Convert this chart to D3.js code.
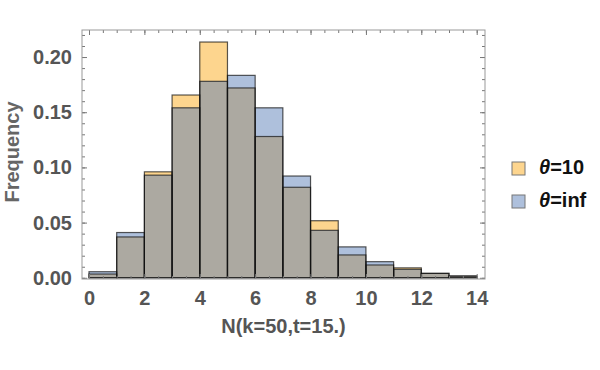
<!DOCTYPE html>
<html>
<head>
<meta charset="utf-8">
<script src="https://cdn.jsdelivr.net/npm/d3@7"></script>
<style>
  body { margin: 0; background: #fff; }
  text { font-family: "Liberation Sans", Arial, sans-serif; }
</style>
</head>
<body>
<div id="chart"></div>
<script>
// bins are [i, i+1)
const binStarts = [0, 1, 2, 3, 4, 5, 6, 7, 8, 9, 10, 11, 12, 13];
const theta10 = [0.0034, 0.037, 0.096, 0.1656, 0.2136, 0.172, 0.128, 0.082, 0.0517, 0.0207, 0.0116, 0.009, 0.004, 0.0016];
const thetaInf = [0.0055, 0.041, 0.093, 0.154, 0.178, 0.1834, 0.154, 0.0922, 0.043, 0.028, 0.0146, 0.0077, 0.004, 0.0016];
const xTicks = [0, 2, 4, 6, 8, 10, 12, 14];
const yTicks = [0, 0.05, 0.10, 0.15, 0.20];
const seriesNames = ['θ=10', 'θ=inf'];

const width = 600;
const height = 370;
const frame = { left: 82, right: 485, top: 30, bottom: 279 };

const orange = '#fdd58e';
const blue = '#aec0dc';
const grey = '#aca9a1';
const labelColor = '#555';

const svg = d3.select('#chart')
    .append('svg')
    .attr('width', width)
    .attr('height', height);

const xScale = d3.scaleLinear()
    .domain([-0.253, 14.3])
    .range([frame.left, frame.right]);
const yScale = d3.scaleLinear()
    .domain([-0.0011, 0.2245])
    .range([frame.bottom, frame.top]);

const bins = binStarts.map((b, i) => ({ x0: b, x1: b + 1, a: theta10[i], b: thetaInf[i] }));

const bars = svg.append('g');

// orange part, then blue, then grey overlap
bars.selectAll('.bar-a')
    .data(bins)
    .enter()
    .append('rect')
    .attr('x', d => xScale(d.x0))
    .attr('width', d => xScale(d.x1) - xScale(d.x0))
    .attr('y', d => yScale(d.a))
    .attr('height', d => yScale(0) - yScale(d.a))
    .style('fill', orange);

bars.selectAll('.bar-b')
    .data(bins)
    .enter()
    .append('rect')
    .attr('x', d => xScale(d.x0))
    .attr('width', d => xScale(d.x1) - xScale(d.x0))
    .attr('y', d => yScale(d.b))
    .attr('height', d => yScale(0) - yScale(d.b))
    .style('fill', blue);

bars.selectAll('.bar-overlap')
    .data(bins)
    .enter()
    .append('rect')
    .attr('x', d => xScale(d.x0))
    .attr('width', d => xScale(d.x1) - xScale(d.x0))
    .attr('y', d => yScale(Math.min(d.a, d.b)))
    .attr('height', d => yScale(0) - yScale(Math.min(d.a, d.b)))
    .style('fill', grey);

// outlines for both series
[theta10, thetaInf].forEach((vals, k) => {
    bars.selectAll('.outline' + k)
        .data(bins)
        .enter()
        .append('rect')
        .attr('x', d => xScale(d.x0))
        .attr('width', d => xScale(d.x1) - xScale(d.x0))
        .attr('y', d => yScale(k === 0 ? d.a : d.b))
        .attr('height', d => yScale(0) - yScale(k === 0 ? d.a : d.b))
        .style('fill', 'none')
        .style('stroke', '#111')
        .style('stroke-opacity', 0.7)
        .style('stroke-width', 1.2);
});

// frame with inward ticks
const frameColor = '#999';
const xMinor = d3.range(0, 14.01, 0.5);
const yMinor = d3.range(0, 0.2245, 0.01);

const bottomAxis = d3.axisBottom(xScale).tickValues(xTicks).tickSize(-5).tickFormat(d => d).tickPadding(12);
const bottomMinor = d3.axisBottom(xScale).tickValues(xMinor).tickSize(-3).tickFormat('');
const topAxis = d3.axisTop(xScale).tickValues(xTicks).tickSize(-5).tickFormat('');
const topMinor = d3.axisTop(xScale).tickValues(xMinor).tickSize(-3).tickFormat('');
const leftAxis = d3.axisLeft(yScale).tickValues(yTicks).tickSize(-5).tickFormat(d3.format('.2f')).tickPadding(10);
const leftMinor = d3.axisLeft(yScale).tickValues(yMinor).tickSize(-3).tickFormat('');
const rightAxis = d3.axisRight(yScale).tickValues(yTicks).tickSize(-5).tickFormat('');
const rightMinor = d3.axisRight(yScale).tickValues(yMinor).tickSize(-3).tickFormat('');

function addAxis(axis, transform) {
    const g = svg.append('g')
        .attr('transform', transform)
        .call(axis);
    g.select('.domain').remove();
    g.selectAll('line').style('stroke', '#777').style('stroke-width', 1);
    g.selectAll('text')
        .style('font-size', '20px')
        .style('font-weight', 'bold')
        .style('fill', labelColor);
    return g;
}

addAxis(bottomAxis, `translate(0,${frame.bottom})`);
addAxis(bottomMinor, `translate(0,${frame.bottom})`);
addAxis(topAxis, `translate(0,${frame.top})`);
addAxis(topMinor, `translate(0,${frame.top})`);
addAxis(leftAxis, `translate(${frame.left},0)`);
addAxis(leftMinor, `translate(${frame.left},0)`);
addAxis(rightAxis, `translate(${frame.right},0)`);
addAxis(rightMinor, `translate(${frame.right},0)`);

svg.append('rect')
    .attr('x', frame.left)
    .attr('y', frame.top)
    .attr('width', frame.right - frame.left)
    .attr('height', frame.bottom - frame.top)
    .style('fill', 'none')
    .style('stroke', frameColor)
    .style('stroke-width', 1);

// axis labels
svg.append('text')
    .attr('x', (frame.left + frame.right) / 2)
    .attr('y', 333)
    .style('text-anchor', 'middle')
    .style('font-size', '20px')
    .style('font-weight', 'bold')
    .style('fill', labelColor)
    .text('N(k=50,t=15.)');

svg.append('text')
    .attr('transform', 'translate(19,152) rotate(-90)')
    .style('text-anchor', 'middle')
    .style('font-size', '20px')
    .style('font-weight', 'bold')
    .style('fill', '#666')
    .text('Frequency');

// legend
const legend = svg.append('g').attr('transform', 'translate(512,160)');
const legendItems = legend.selectAll('.item')
    .data(seriesNames)
    .enter()
    .append('g')
    .attr('transform', (d, i) => `translate(0,${i * 33})`);

legendItems.append('rect')
    .attr('width', 13)
    .attr('height', 13)
    .attr('y', 2)
    .style('fill', (d, i) => i === 0 ? orange : blue)
    .style('stroke', '#777')
    .style('stroke-width', 1);

legendItems.append('text')
    .attr('x', 27)
    .attr('y', 14)
    .style('font-size', '20px')
    .style('font-weight', 'bold')
    .style('fill', '#111')
    .each(function(d) {
        const t = d3.select(this);
        t.append('tspan').style('font-style', 'italic').text(d[0]);
        t.append('tspan').text(d.slice(1));
    });
</script>
</body>
</html>
